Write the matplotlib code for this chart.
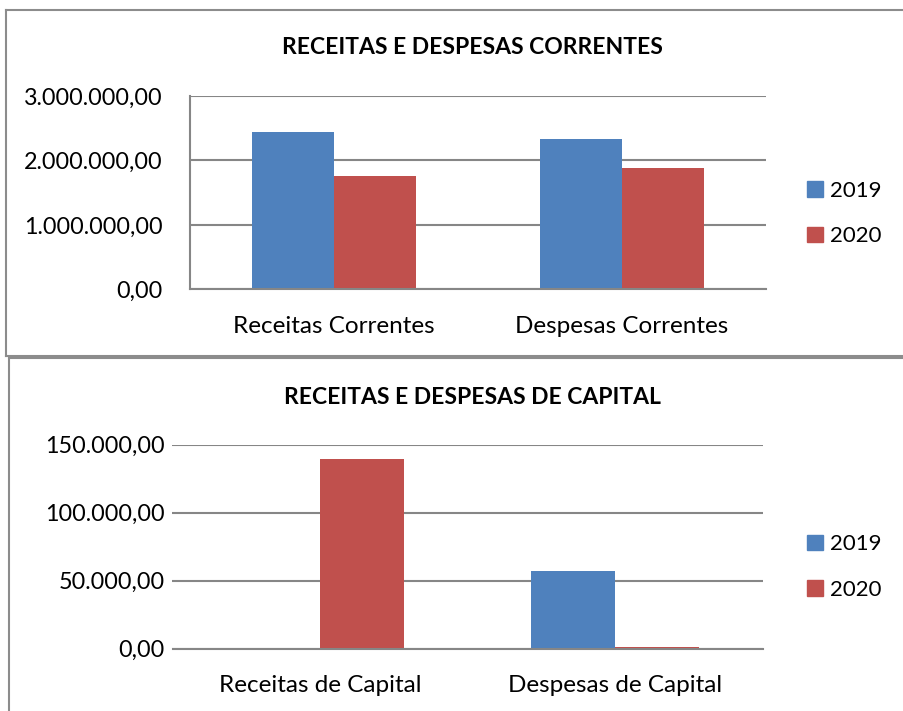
import matplotlib
matplotlib.use("Agg")
import matplotlib.pyplot as plt
from matplotlib.lines import Line2D
from matplotlib.patches import Patch
from matplotlib.ticker import FuncFormatter
import numpy as np

plt.rcParams['font.family'] = ['Lato', 'DejaVu Sans']

series_labels = ["2019", "2020"]
colors = ["#4F81BD", "#C0504D"]

cat_top = ["Receitas Correntes", "Despesas Correntes"]
top_2019 = [2443000, 2326000]
top_2020 = [1761000, 1876000]
title_top = "RECEITAS E DESPESAS CORRENTES"
ticks_top = [0, 1000000, 2000000, 3000000]

cat_bot = ["Receitas de Capital", "Despesas de Capital"]
bot_2019 = [0, 57100]
bot_2020 = [139700, 900]
title_bot = "RECEITAS E DESPESAS DE CAPITAL"
ticks_bot = [0, 50000, 100000, 150000]

W, H = 904, 711
fig = plt.figure(figsize=(W / 100, H / 100), dpi=100)

def fx(x):
    return x / W

def fy(y):
    return 1 - y / H

def br_fmt(v, pos=None):
    s = f"{v:,.2f}"
    return s.replace(",", "X").replace(".", ",").replace("X", ".")

grid_c = "#868686"

# panel frames
frame_c = "#8c8c8c"
fig.add_artist(Line2D([fx(6), fx(6)], [fy(10), fy(356)], color=frame_c, lw=1.5, transform=fig.transFigure))
fig.add_artist(Line2D([fx(6), 1.01], [fy(10), fy(10)], color=frame_c, lw=1.5, transform=fig.transFigure))
fig.add_artist(Line2D([fx(6), 1.01], [fy(356), fy(356)], color=frame_c, lw=1.5, transform=fig.transFigure))
fig.add_artist(Line2D([fx(8.5), fx(8.5)], [fy(358), -0.01], color=frame_c, lw=1.5, transform=fig.transFigure))
fig.add_artist(Line2D([fx(8.5), 1.01], [fy(358), fy(358)], color=frame_c, lw=1.5, transform=fig.transFigure))

def draw(rect, cats, s1, s2, ticks, title, title_y, leg_y, left_spine, xpad, ypad):
    ax = fig.add_axes(rect)
    w = 0.2857
    x = np.arange(len(cats))
    ax.bar(x - w / 2, s1, w, color=colors[0], zorder=3)
    ax.bar(x + w / 2, s2, w, color=colors[1], zorder=3)
    ax.set_xlim(-0.5, len(cats) - 0.5)
    ax.set_ylim(ticks[0], ticks[-1])
    ax.set_yticks(ticks)
    ax.yaxis.set_major_formatter(FuncFormatter(br_fmt))
    ax.set_xticks(x)
    ax.set_xticklabels(cats)
    ax.tick_params(axis='both', length=0)
    ax.tick_params(axis='y', labelsize=16.8, pad=ypad)
    ax.tick_params(axis='x', labelsize=17.5, pad=xpad)
    ax.grid(axis='y', color=grid_c, lw=1.5, zorder=0)
    for s in ["top", "right"]:
        ax.spines[s].set_visible(False)
    ax.spines["bottom"].set_color(grid_c)
    ax.spines["bottom"].set_linewidth(1.5)
    ax.spines["bottom"].set_zorder(4)
    if left_spine:
        ax.spines["left"].set_color(grid_c)
        ax.spines["left"].set_linewidth(1.5)
    else:
        ax.spines["left"].set_visible(False)
    fig.text(fx(472), fy(title_y), title, ha='center', va='center',
             fontsize=16.5, fontweight='bold')
    handles = [Patch(color=colors[0], label=series_labels[0]),
               Patch(color=colors[1], label=series_labels[1])]
    fig.legend(handles=handles, loc='center left',
               bbox_to_anchor=(fx(787), fy(leg_y)), frameon=False,
               fontsize=16.0, handlelength=0.72, handleheight=0.72,
               handletextpad=0.3, labelspacing=1.15)
    return ax

ax1 = draw([fx(190), fy(289.3), fx(766) - fx(190), fy(96) - fy(289.3)],
           cat_top, top_2019, top_2020, ticks_top, title_top, 47, 213.5, True, 19, 19.5)
ax2 = draw([fx(172.5), fy(648.7), fx(762.5) - fx(172.5), fy(444.7) - fy(648.7)],
           cat_bot, bot_2019, bot_2020, ticks_bot, title_bot, 397, 567, False, 19, 5.4)

fig.savefig("out.png", dpi=100)
